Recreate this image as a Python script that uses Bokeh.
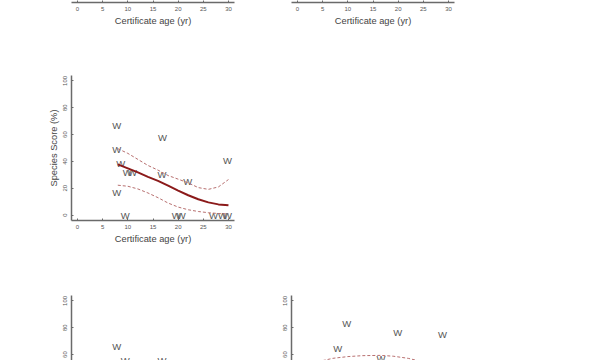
import math
from bokeh.plotting import figure
from bokeh.layouts import row, column
from bokeh.models import Spacer, Label, Range1d, ColumnDataSource, FixedTicker
from bokeh.embed import file_html
from bokeh.resources import INLINE
from bokeh.core.properties import value

# ---------------- data ----------------
X_TICKS = [0, 5, 10, 15, 20, 25, 30]
Y_TICKS = [0, 20, 40, 60, 80, 100]
X_RANGE = (-1.2, 31.2)
Y_RANGE = (-4, 104)
X_TITLE = "Certificate age (yr)"
Y_TITLE = "Species Score (%)"
MARK = "W"

# middle panel (fully visible)
mid_x = [7.8, 16.9, 7.8, 8.6, 9.9, 10.9, 16.8, 21.9, 29.8, 7.8, 9.5, 19.6, 20.6, 27.0, 28.8, 29.8]
mid_y = [66.7, 58.0, 48.7, 38.5, 32.0, 32.0, 30.5, 24.8, 40.4, 16.5, 0.0, 0.0, 0.0, 0.0, 0.0, 0.0]
fit_x = [8, 10, 12, 14, 16, 18, 20, 22, 24, 26, 28, 30]
fit_y = [37.8, 34.8, 31.8, 28.5, 25.5, 22.0, 18.3, 14.8, 11.8, 9.5, 8.0, 7.3]
upper_y = [49.5, 46.0, 41.5, 37.0, 33.5, 29.5, 26.8, 24.0, 20.5, 19.2, 21.0, 26.5]
lower_y = [22.3, 21.5, 19.5, 16.5, 13.0, 9.0, 6.0, 4.0, 2.7, 1.8, 1.2, 0.8]

# bottom-left panel (top part only)
bl_x = [7.8, 9.5, 16.8]
bl_y = [65.7, 55.8, 55.8]

# bottom-right panel (top part only)
br_x = [9.8, 19.9, 28.8, 8.0, 16.6]
br_y = [83.0, 76.5, 74.6, 64.7, 57.0]
br_up_x = [5, 7, 10, 13, 16.5, 19, 22, 25]
br_up_y = [55.5, 57.2, 58.5, 59.2, 59.4, 58.8, 57.2, 54.5]

# ---------------- style ----------------
FONT = "Liberation Sans"
AXIS_COLOR = "#6a6a6a"
TICK_TEXT = "#555555"
TITLE_TEXT = "#444444"
MARK_COLOR = "#555555"
FIT_COLOR = "#8b1a1a"
BAND_COLOR = "#b87070"

FRAME_W = 163
FRAME_H = 145
PX_PER_X = FRAME_W / (X_RANGE[1] - X_RANGE[0])
PX_PER_Y = FRAME_H / (Y_RANGE[1] - Y_RANGE[0])


def make_fig(width, height, left, right, top, bottom, y_range, show_x=True, show_y=True, ylabel=True):
    p = figure(width=width, height=height,
               x_range=Range1d(*X_RANGE), y_range=Range1d(*y_range),
               output_backend="svg", toolbar_location=None, title=None,
               min_border_left=left, min_border_right=right,
               min_border_top=top, min_border_bottom=bottom,
               background_fill_color="white", border_fill_color="white")
    p.outline_line_color = None
    p.xgrid.visible = False
    p.ygrid.visible = False
    p.xaxis.ticker = FixedTicker(ticks=X_TICKS)
    p.yaxis.ticker = FixedTicker(ticks=Y_TICKS)
    for ax in p.axis:
        ax.axis_line_color = AXIS_COLOR
        ax.axis_line_width = 1.5
        ax.major_tick_line_color = AXIS_COLOR
        ax.major_tick_in = 2
        ax.major_tick_out = 0
        ax.minor_tick_line_color = None
        ax.major_label_text_font = FONT
        ax.major_label_text_font_size = "6px"
        ax.major_label_text_color = TICK_TEXT
        ax.major_label_standoff = 4
        ax.axis_label_text_font = FONT
        ax.axis_label_text_font_size = "9.3px"
        ax.axis_label_text_font_style = "normal"
        ax.axis_label_text_color = TITLE_TEXT
        ax.axis_label_standoff = 2
    p.xaxis.axis_label = X_TITLE
    p.yaxis.axis_label = Y_TITLE if ylabel else ""
    p.yaxis.major_label_orientation = "vertical"
    p.xaxis.visible = show_x
    p.yaxis.visible = show_y
    return p


def add_marks(p, xs, ys):
    src = ColumnDataSource(dict(x=xs, y=ys, t=[MARK] * len(xs)))
    p.text(x="x", y="y", text="t", source=src, text_font=value(FONT),
           text_font_size="9.5px", text_color=MARK_COLOR,
           text_align="center", text_baseline="middle")


def add_cut_ylabel(p):
    # y-axis title positioned as for a full-height panel whose lower part is off-page
    lx = X_RANGE[0] - 18 / PX_PER_X
    ly = (Y_RANGE[0] + Y_RANGE[1]) / 2
    p.add_layout(Label(x=lx, y=ly, text=Y_TITLE, angle=math.pi / 2,
                       text_font=FONT, text_font_size="9.3px", text_color=TITLE_TEXT,
                       text_align="center", text_baseline="middle"))


LEFT_W = 261
RIGHT_W = 329

# top row: only the x axes of two panels are visible
top_h = 80
pa = make_fig(LEFT_W, top_h, 71, LEFT_W - 71 - FRAME_W, 0, 28, Y_RANGE, show_y=False)
pb = make_fig(RIGHT_W, top_h, 30, RIGHT_W - 30 - FRAME_W, 0, 28, Y_RANGE, show_y=False)

# middle row: full panel + empty space
pc = make_fig(LEFT_W, 240, 71, LEFT_W - 71 - FRAME_W, 45, 50, Y_RANGE)
add_marks(pc, mid_x, mid_y)
pc.line(fit_x, upper_y, line_color=BAND_COLOR, line_width=1, line_dash="3 2")
pc.line(fit_x, lower_y, line_color=BAND_COLOR, line_width=1, line_dash="3 2")
pc.line(fit_x, fit_y, line_color=FIT_COLOR, line_width=2)
sp = Spacer(width=RIGHT_W, height=240)

# bottom row: only upper part of two panels visible
bot_h = 90
bot_frame = bot_h - 25
bot_range = (Y_RANGE[1] - bot_frame / PX_PER_Y, Y_RANGE[1])
pd = make_fig(LEFT_W, bot_h, 71, LEFT_W - 71 - FRAME_W, 25, 0, bot_range, show_x=False, ylabel=False)
add_marks(pd, bl_x, bl_y)
add_cut_ylabel(pd)
pe = make_fig(RIGHT_W, bot_h, 30, RIGHT_W - 30 - FRAME_W, 25, 0, bot_range, show_x=False, ylabel=False)
pe.line(br_up_x, br_up_y, line_color=BAND_COLOR, line_width=1, line_dash="3 2")
add_marks(pe, br_x, br_y)
add_cut_ylabel(pe)

layout = column(row(pa, pb), row(pc, sp), row(pd, pe), margin=(-50, 0, 0, 0))

open("out.html", "w").write(file_html(layout, INLINE))
